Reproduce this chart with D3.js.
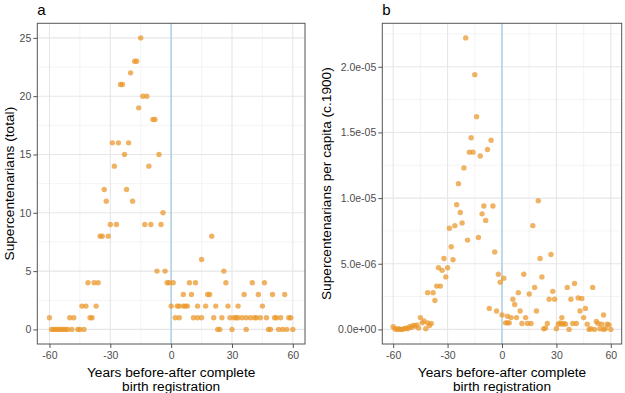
<!DOCTYPE html>
<html>
<head>
<meta charset="utf-8">
<script src="https://cdn.jsdelivr.net/npm/d3@7"></script>
<style>
    body { margin: 0; background: #fff; }
    svg text { font-family: "Liberation Sans", Arial, sans-serif; }
</style>
</head>
<body>
<svg id="fig" width="625" height="393"></svg>
<script>
//------------------- data ----------------------------------------

var xTicks = [-60, -30, 0, 30, 60];
var xTickLabels = ["-60", "-30", "0", "30", "60"];
var xMinor = [-45, -15, 15, 45];

var yTicksA = [0, 5, 10, 15, 20, 25];
var yTickLabelsA = ["0", "5", "10", "15", "20", "25"];

var yTicksB = [0, 5e-6, 1e-5, 1.5e-5, 2e-5];
var yTickLabelsB = ["0.0e+00", "5.0e-06", "1.0e-05", "1.5e-05", "2.0e-05"];

// panel a : supercentenarians (total)
var yearsA = [
    -15, -18, -17, -20, -25, -24, -14, -12, -16, -9, -8,
    -29, -26, -21, -23, -6, -28, -11, -33, -22, -32, -19,
    -4, -30, -27, -13, -10, -5, -35, -34, -31, 20, 15,
    -7, -3, 26,
    -41, -38, -36, -2, -1, 1, 9, 12, 27, 40, 46,
    6, 10, 18, 19, 36, 43, 50, 56,
    -44, -42, -37, 0, 3, 4, 6, 7, 8, 13, 17, 22, 28, 33, 45,
    -60, -50, -48, -40, -39, 2, 4, 11, 13, 15, 21, 25, 29, 31,
    32, 33, 35, 37, 39, 41, 42, 44, 47, 51, 52, 54, 58, 59,
    -59, -58, -57, -56, -55, -54, -53, -52, -51, -49, -46, -45,
    -43, 23, 24, 30, 37, 48, 49, 53, 55, 57, 60
];
var totalA = [
    25, 23, 23, 22, 21, 21, 20, 20, 19, 18, 18,
    16, 16, 16, 15, 15, 14, 14, 12, 12, 11, 11,
    10, 9, 9, 9, 9, 9, 8, 8, 8, 8, 6,
    5, 5, 5,
    4, 4, 4, 4, 4, 4, 4, 4, 4, 4, 4,
    3, 3, 3, 3, 3, 3, 3, 3,
    2, 2, 2, 2, 2, 2, 2, 2, 2, 2, 2, 2, 2, 2, 2,
    1, 1, 1, 1, 1, 1, 1, 1, 1, 1, 1, 1, 1, 1,
    1, 1, 1, 1, 1, 1, 1, 1, 1, 1, 1, 1, 1, 1,
    0, 0, 0, 0, 0, 0, 0, 0, 0, 0, 0, 0,
    0, 0, 0, 0, 0, 0, 0, 0, 0, 0, 0
];

// panel b : supercentenarians per capita (c.1900)
var yearsB = [
    -60, -59, -58, -57, -56, -55, -54, -53, -52, -51,
    -50, -49, -48, -47, -46, -45, -44, -43, -42, -41,
    -40, -39, -41, -38, -37, -36, -34, -35, -33, -32,
    -31, -30, -29, -28, -27, -26, -25, -24, -23, -22,
    -21, -20, -19, -18, -17, -16, -15, -14, -13, -12,
    -11, -10, -9, -8, -7, -6, -5, -4, -3, -2,
    -1, 0, 1, 2, 3, 3, 4, 5, 6, 7,
    8, 9, 10, 11, 12, 13, 14, 15, 16, 17,
    18, 19, 20, 21, 22, 23, 24, 25, 26, 27,
    28, 29, 30, 31, 32, 33, 33, 34, 35, 36,
    37, 38, 39, 40, 41, 42, 43, 44, 45, 46,
    47, 48, 49, 50, 51, 52, 53, 54, 55, 56,
    56, 57, 58, 59, 60
];
var perCapitaB = [
    0.2e-6, 0.05e-6, 0, 0.05e-6, 0, 0, 0.05e-6, 0.1e-6, 0.05e-6, 0.2e-6,
    0.15e-6, 0.3e-6, 0.25e-6, 0.35e-6, 0.1e-6, 0.9e-6, 0.5e-6, 0.65e-6, 0.05e-6, 0.5e-6,
    0.3e-6, 0.45e-6, 2.8e-6, 2.8e-6, 2.2e-6, 3.3e-6, 3.3e-6, 4.7e-6, 4.5e-6, 5.4e-6,
    4.0e-6, 4.7e-6, 7.7e-6, 6.3e-6, 5.3e-6, 7.9e-6, 9.5e-6, 11.1e-6, 8.9e-6, 8.1e-6,
    12.3e-6, 22.2e-6, 6.8e-6, 13.5e-6, 14.6e-6, 13.5e-6, 19.4e-6, 16.2e-6, 7.0e-6, 13.2e-6,
    8.8e-6, 9.4e-6, 8.3e-6, 13.7e-6, 1.6e-6, 14.4e-6, 9.4e-6, 5.9e-6, 1.4e-6, 4.2e-6,
    3.6e-6, 1.1e-6, 3.9e-6, 0.5e-6, 1.0e-6, 0.5e-6, 0.5e-6, 0.9e-6, 2.3e-6, 1.9e-6,
    0.9e-6, 2.8e-6, 1.4e-6, 0.45e-6, 4.2e-6, 0.9e-6, 0.45e-6, 2.7e-6, 0.45e-6, 7.9e-6,
    3.2e-6, 1.4e-6, 9.8e-6, 5.4e-6, 4.0e-6, 0.05e-6, 0.1e-6, 0.45e-6, 2.3e-6, 5.7e-6,
    2.9e-6, 2.3e-6, 0.05e-6, 0.4e-6, 0.5e-6, 0.9e-6, 0.4e-6, 0.45e-6, 0.4e-6, 3.2e-6,
    0, 2.3e-6, 0.45e-6, 3.5e-6, 0.45e-6, 2.4e-6, 1.4e-6, 2.35e-6, 0.9e-6, 1.6e-6,
    0.4e-6, 0, 0.05e-6, 3.2e-6, 0, 0.6e-6, 0.45e-6, 0.05e-6, 0.4e-6, 1.1e-6,
    0, 0.05e-6, 0.4e-6, 0.35e-6, 0
];

//------------------- drawing ----------------------------------------

var svg = d3.select("#fig");

// ggplot style 5% expansion
function etendre(ext) {
    var pad = (ext[1] - ext[0]) * 0.05;
    return [ext[0] - pad, ext[1] + pad];
}

function dessinerPanneau(p) {
    var x = d3.scaleLinear().domain(etendre(d3.extent(p.xs))).range([p.left, p.right]);
    var y = d3.scaleLinear().domain(etendre([0, d3.max(p.ys)])).range([p.bottom, p.top]);
    var g = svg.append("g");

    // minor grid
    var yMinor = p.yTicks.map(function(d) { return d + p.yStep / 2; })
        .filter(function(d) { return d <= y.domain()[1]; });
    g.selectAll(".gminy").data(yMinor).enter().append("line")
        .attr("x1", p.left).attr("x2", p.right)
        .attr("y1", function(d) { return y(d); }).attr("y2", function(d) { return y(d); })
        .attr("stroke", "#ececf0").attr("stroke-width", 0.6);
    g.selectAll(".gminx").data(xMinor).enter().append("line")
        .attr("y1", p.top).attr("y2", p.bottom)
        .attr("x1", function(d) { return x(d); }).attr("x2", function(d) { return x(d); })
        .attr("stroke", "#ececf0").attr("stroke-width", 0.6);

    // major grid
    g.selectAll(".gmajy").data(p.yTicks).enter().append("line")
        .attr("x1", p.left).attr("x2", p.right)
        .attr("y1", function(d) { return y(d); }).attr("y2", function(d) { return y(d); })
        .attr("stroke", "#e6e6ea").attr("stroke-width", 1.1);
    g.selectAll(".gmajx").data(xTicks).enter().append("line")
        .attr("y1", p.top).attr("y2", p.bottom)
        .attr("x1", function(d) { return x(d); }).attr("x2", function(d) { return x(d); })
        .attr("stroke", "#e6e6ea").attr("stroke-width", 1.1);

    // line at zero
    g.append("line")
        .attr("x1", x(0)).attr("x2", x(0))
        .attr("y1", p.top).attr("y2", p.bottom)
        .attr("stroke", "#9ecae1").attr("stroke-width", 1.2);

    // points
    g.selectAll("circle").data(p.xs).enter().append("circle")
        .attr("cx", function(d) { return x(d); })
        .attr("cy", function(d, i) { return y(p.ys[i]); })
        .attr("r", 2.7)
        .attr("fill", "#ea9527")
        .attr("fill-opacity", 0.72);

    // border
    g.append("rect")
        .attr("x", p.left).attr("y", p.top)
        .attr("width", p.right - p.left).attr("height", p.bottom - p.top)
        .attr("fill", "none").attr("stroke", "#555").attr("stroke-width", 1);

    // axes
    var ax = g.append("g").attr("transform", "translate(0," + p.bottom + ")")
        .call(d3.axisBottom(x).tickValues(xTicks).tickSize(4).tickPadding(4)
            .tickFormat(function(d, i) { return xTickLabels[i]; }));
    var ay = g.append("g").attr("transform", "translate(" + p.left + ",0)")
        .call(d3.axisLeft(y).tickValues(p.yTicks).tickSize(4).tickPadding(2)
            .tickFormat(function(d, i) { return p.yLabels[i]; }));
    [ax, ay].forEach(function(a) {
        a.select(".domain").remove();
        a.selectAll(".tick line").attr("stroke", "#555");
        a.selectAll(".tick text").attr("fill", "#4d4d4d")
            .style("font-size", "10.5px");
    });

    // titles
    g.append("text").attr("x", (p.left + p.right) / 2).attr("y", 377)
        .attr("text-anchor", "middle").style("font-size", "13.7px")
        .text("Years before-after complete");
    g.append("text").attr("x", (p.left + p.right) / 2).attr("y", 391)
        .attr("text-anchor", "middle").style("font-size", "13.7px")
        .text("birth registration");
    g.append("text")
        .attr("transform", "translate(" + p.yTitleX + "," + (p.top + p.bottom) / 2 + ") rotate(-90)")
        .attr("text-anchor", "middle").style("font-size", "13.7px")
        .text(p.yTitle);
    g.append("text").attr("x", p.left).attr("y", 15)
        .style("font-size", "15px").text(p.tag);
}

dessinerPanneau({
    xs: yearsA, ys: totalA, yTicks: yTicksA, yLabels: yTickLabelsA, yStep: 5,
    left: 37.3, right: 305, top: 23.3, bottom: 344,
    yTitle: "Supercentenarians (total)", yTitleX: 14, tag: "a"
});

dessinerPanneau({
    xs: yearsB, ys: perCapitaB, yTicks: yTicksB, yLabels: yTickLabelsB, yStep: 5e-6,
    left: 382.3, right: 621.7, top: 23.3, bottom: 344,
    yTitle: "Supercentenarians per capita (c.1900)", yTitleX: 330.7, tag: "b"
});
</script>
</body>
</html>
